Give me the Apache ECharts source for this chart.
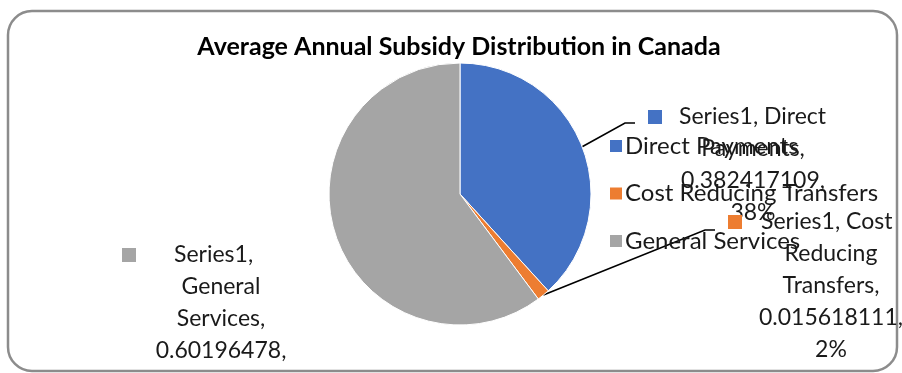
<!DOCTYPE html>
<html>
<head>
<meta charset="utf-8">
<script src="https://cdn.jsdelivr.net/npm/echarts@6/dist/echarts.min.js"></script>
<style>
  html, body { margin: 0; padding: 0; background: #ffffff; }
  #chart { width: 902px; height: 373px; }
</style>
</head>
<body>
<div id="chart"></div>
<script>
// Data
const chartTitle = 'Average Annual Subsidy Distribution in Canada';
const seriesName = 'Series1';
const categories = ['Direct Payments', 'Cost Reducing Transfers', 'General Services'];
const values = [0.382417109, 0.015618111, 0.60196478];
const sliceColors = ['#4472C4', '#ED7D31', '#A5A5A5'];
// how many words of the data label go on each wrapped line
const labelWrap = [[2, 1, 1, 1], [2, 1, 1, 1, 1], [1, 1, 1, 1, 1]];

// Label placement (centre x, top y, left edge of the marker, marker-to-text gap, leader line bend points)
const labelSpots = [
  { cx: 753, top: 101, left: 648, gap: 17, line: [[625, 123], [635, 123]] },
  { cx: 831, top: 206, left: 728, gap: 19, line: [[705, 230], [715, 230]] },
  { cx: 221, top: 239, left: 122, gap: 38, line: null }
];

const FONT = 'Lato, "Open Sans", sans-serif';
const labelSize = 23;
const lineH = 32;
const markerSize = 14;
const textColor = '#1a1a1a';

const total = values.reduce((a, b) => a + b, 0);
const percents = values.map(v => Math.round(v / total * 100) + '%');

const measureCtx = document.createElement('canvas').getContext('2d');
function textWidth(s) {
  measureCtx.font = labelSize + 'px ' + FONT;
  return measureCtx.measureText(s).width;
}

function buildLabel(i) {
  const words = (seriesName + ', ' + categories[i] + ', ' + values[i] + ', ' + percents[i]).split(' ');
  const lines = [];
  let k = 0;
  labelWrap[i].forEach(n => { lines.push(words.slice(k, k + n).join(' ')); k += n; });
  const spot = labelSpots[i];
  const lineWidth = 2 * (spot.cx - spot.left);
  const pad = Math.max(0, lineWidth - markerSize - spot.gap - textWidth(lines[0]));
  lines[0] = '{m' + i + '| }{g' + i + '| }' + lines[0] + '{p' + i + '| }';
  return { text: lines.join('\n'), pad: pad };
}

const rich = {};
const pieData = categories.map((name, i) => {
  const built = buildLabel(i);
  rich['m' + i] = { width: markerSize, height: markerSize, backgroundColor: sliceColors[i], lineHeight: lineH };
  rich['g' + i] = { width: labelSpots[i].gap, lineHeight: lineH };
  rich['p' + i] = { width: built.pad, lineHeight: lineH };
  return {
    name: name,
    value: values[i],
    itemStyle: { color: sliceColors[i] },
    label: { formatter: built.text },
    labelLine: { show: !!labelSpots[i].line }
  };
});

const chart = echarts.init(document.getElementById('chart'), null, { renderer: 'canvas' });

const pieCenter = [460, 194];
const pieRadius = 131;

chart.setOption({
  animation: false,
  backgroundColor: '#ffffff',
  title: {
    text: chartTitle,
    left: 459,
    top: 47,
    textAlign: 'center',
    textVerticalAlign: 'middle',
    padding: 0,
    textStyle: { fontFamily: FONT, fontWeight: 'bold', fontSize: 25, color: '#000000' }
  },
  legend: {
    orient: 'vertical',
    left: 603,
    top: 128,
    icon: 'rect',
    itemWidth: 14,
    itemHeight: 14,
    itemGap: 21.5,
    selectedMode: false,
    data: categories,
    textStyle: { fontFamily: FONT, fontSize: 24, color: textColor, lineHeight: 26, padding: [0, 0, 0, -3] }
  },
  graphic: [{
    type: 'rect',
    silent: true,
    z: -1,
    shape: { x: 8, y: 11, width: 889, height: 360, r: 24 },
    style: { fill: 'none', stroke: '#8c8c8c', lineWidth: 2.5 }
  }],
  series: [{
    type: 'pie',
    name: seriesName,
    center: pieCenter,
    radius: pieRadius,
    startAngle: 90,
    clockwise: true,
    avoidLabelOverlap: false,
    itemStyle: { borderColor: '#ffffff', borderWidth: 1 },
    label: {
      show: true,
      position: 'outside',
      fontFamily: FONT,
      fontSize: labelSize,
      lineHeight: lineH,
      color: textColor,
      rich: rich
    },
    labelLine: { show: true, smooth: false, lineStyle: { color: '#000000', width: 1.6 } },
    labelLayout: function (p) {
      const spot = labelSpots[p.dataIndex];
      const out = { x: spot.cx, y: spot.top, align: 'center', verticalAlign: 'top', hideOverlap: false };
      if (spot.line) {
        let start = p.labelLinePoints && p.labelLinePoints[0];
        if (!start) {
          let before = 0;
          for (let j = 0; j < p.dataIndex; j++) before += values[j];
          const mid = (before + values[p.dataIndex] / 2) / total * Math.PI * 2;
          start = [pieCenter[0] + pieRadius * Math.sin(mid), pieCenter[1] - pieRadius * Math.cos(mid)];
        }
        out.labelLinePoints = [start, spot.line[0], spot.line[1]];
      }
      return out;
    },
    data: pieData
  }]
});
</script>
</body>
</html>
